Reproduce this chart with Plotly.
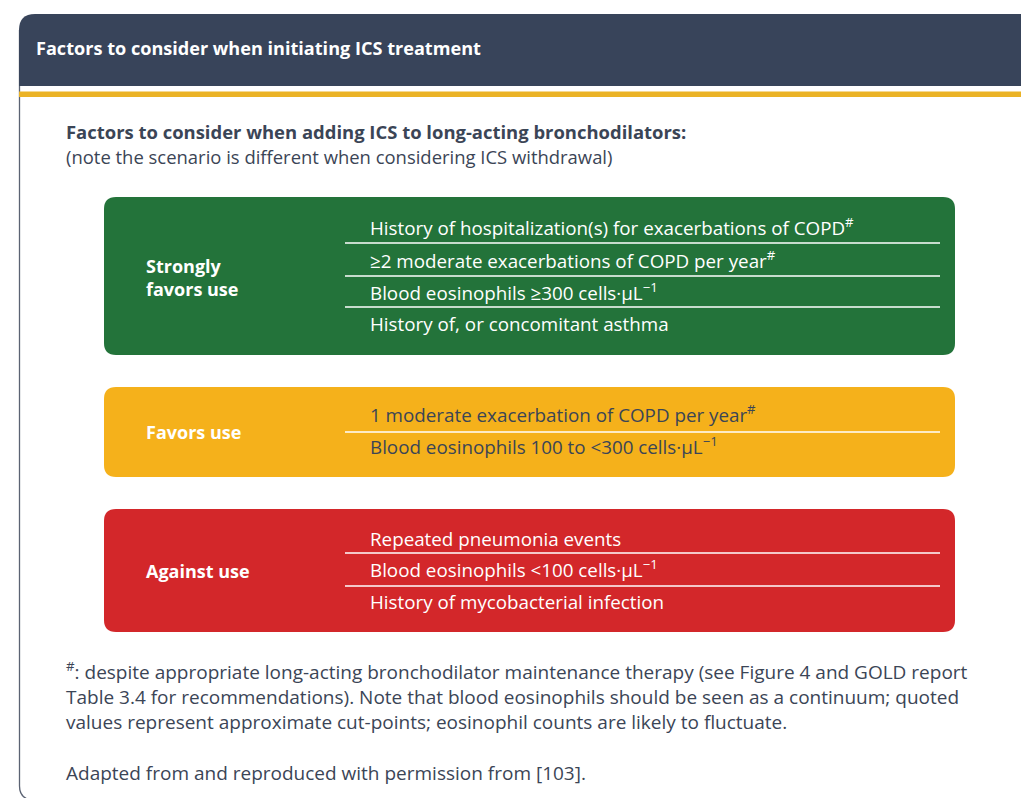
import plotly.graph_objects as go

# ---- content ----
header_title = "Factors to consider when initiating ICS treatment"
subtitle_bold = "Factors to consider when adding ICS to long-acting bronchodilators:"
subtitle_note = "(note the scenario is different when considering ICS withdrawal)"

categories = ["Strongly<br>favors use", "Favors use", "Against use"]
factors_strong = [
    "History of hospitalization(s) for exacerbations of COPD<sup>#</sup>",
    "≥2 moderate exacerbations of COPD per year<sup>#</sup>",
    "Blood eosinophils ≥300 cells·µL<sup>−1</sup>",
    "History of, or concomitant asthma",
]
factors_favors = [
    "1 moderate exacerbation of COPD per year<sup>#</sup>",
    "Blood eosinophils 100 to &lt;300 cells·µL<sup>−1</sup>",
]
factors_against = [
    "Repeated pneumonia events",
    "Blood eosinophils &lt;100 cells·µL<sup>−1</sup>",
    "History of mycobacterial infection",
]
footnote_lines = [
    "<sup>#</sup>: despite appropriate long-acting bronchodilator maintenance therapy (see Figure 4 and GOLD report",
    "Table 3.4 for recommendations). Note that blood eosinophils should be seen as a continuum; quoted",
    "values represent approximate cut-points; eosinophil counts are likely to fluctuate.",
]
source_line = "Adapted from and reproduced with permission from [103]."

# ---- styling / layout ----
OFF = 8                      # page body margin; data coords == screen pixels
W, H = 1029, 798
FONT = "Open Sans"
NAVY = "#38445a"
TEXT = "#3b4556"
YELLOW_LINE = "#ebb326"
box_colors = ["#23733a", "#f5b11b", "#d3272a"]
item_colors = ["white", TEXT, "white"]
box_tops = [197, 387, 509]
box_bottoms = [355, 477, 632]
item_y = [[229, 262, 294, 325], [416, 448], [540, 571, 603]]
sep_y = [[243, 276, 307], [432], [553, 586]]
factor_lists = [factors_strong, factors_favors, factors_against]
FS_HEAD = 18.1
FS_SUB = 18.45
FS_LABEL = 18.0
FS_ITEM = 18.8
FS_NOTE = 19.0


def rounded_rect(x0, y0, x1, y1, r):
    return (f"M{x0+r},{y0} L{x1-r},{y0} Q{x1},{y0} {x1},{y0+r} "
            f"L{x1},{y1-r} Q{x1},{y1} {x1-r},{y1} L{x0+r},{y1} "
            f"Q{x0},{y1} {x0},{y1-r} L{x0},{y0+r} Q{x0},{y0} {x0+r},{y0} Z")


def ypos(text, y):
    # superscripts enlarge the line box; nudge those lines up a little more
    return y - (2 if "<sup>" in text else 1)


shapes = []
annotations = []

# card left border with rounded bottom-left corner
shapes.append(dict(type="path", xref="x", yref="y",
                   path="M19.5,30 L19.5,786 Q19.5,798 31,800",
                   line=dict(color="#5b6373", width=1.3)))
# header band (top-left rounded)
shapes.append(dict(type="path", xref="x", yref="y",
                   path="M19,86 L19,30 Q19,14 35,14 L1040,14 L1040,86 Z",
                   fillcolor=NAVY, line=dict(width=0)))
# yellow rule
shapes.append(dict(type="rect", xref="x", yref="y", x0=19, x1=1040, y0=91.5, y1=97,
                   fillcolor=YELLOW_LINE, line=dict(width=0)))

annotations.append(dict(x=34, y=48, text=f"<b>{header_title}</b>", showarrow=False,
                        xanchor="left", yanchor="middle",
                        font=dict(family=FONT, size=FS_HEAD, color="white")))
annotations.append(dict(x=64, y=131, text=f"<b>{subtitle_bold}</b>", showarrow=False,
                        xanchor="left", yanchor="middle",
                        font=dict(family=FONT, size=FS_SUB, color=TEXT)))
annotations.append(dict(x=64, y=156, text=subtitle_note, showarrow=False,
                        xanchor="left", yanchor="middle",
                        font=dict(family=FONT, size=FS_SUB, color=TEXT)))

for i, cat in enumerate(categories):
    y0, y1 = box_tops[i], box_bottoms[i]
    shapes.append(dict(type="path", xref="x", yref="y",
                       path=rounded_rect(104, y0, 955, y1, 12),
                       fillcolor=box_colors[i], line=dict(width=0)))
    annotations.append(dict(x=144, y=(y0 + y1) / 2 + (1 if i == 0 else 0), text=f"<b>{cat}</b>",
                            showarrow=False, xanchor="left", yanchor="middle", align="left",
                            font=dict(family=FONT, size=FS_LABEL, color="white")))
    for t, yy in zip(factor_lists[i], item_y[i]):
        annotations.append(dict(x=368, y=ypos(t, yy), text=t, showarrow=False,
                                xanchor="left", yanchor="middle",
                                font=dict(family=FONT, size=FS_ITEM, color=item_colors[i])))
    for yy in sep_y[i]:
        shapes.append(dict(type="line", xref="x", yref="y", x0=345, x1=940, y0=yy, y1=yy,
                           line=dict(color="white", width=1.5)))

for t, yy in zip(footnote_lines, [672, 697, 722]):
    annotations.append(dict(x=64, y=ypos(t, yy) + 1, text=t, showarrow=False, xanchor="left",
                            yanchor="middle", font=dict(family=FONT, size=FS_NOTE, color=TEXT)))
annotations.append(dict(x=64, y=773, text=source_line, showarrow=False, xanchor="left",
                        yanchor="middle", font=dict(family=FONT, size=FS_NOTE, color=TEXT)))

fig = go.Figure()
fig.update_layout(
    width=W - OFF, height=H - OFF,
    margin=dict(l=0, r=0, t=0, b=0),
    paper_bgcolor="white", plot_bgcolor="white",
    xaxis=dict(range=[OFF, W], visible=False, fixedrange=True),
    yaxis=dict(range=[H, OFF], visible=False, fixedrange=True),
    shapes=shapes, annotations=annotations,
    showlegend=False,
)
fig.write_html("out.html")
